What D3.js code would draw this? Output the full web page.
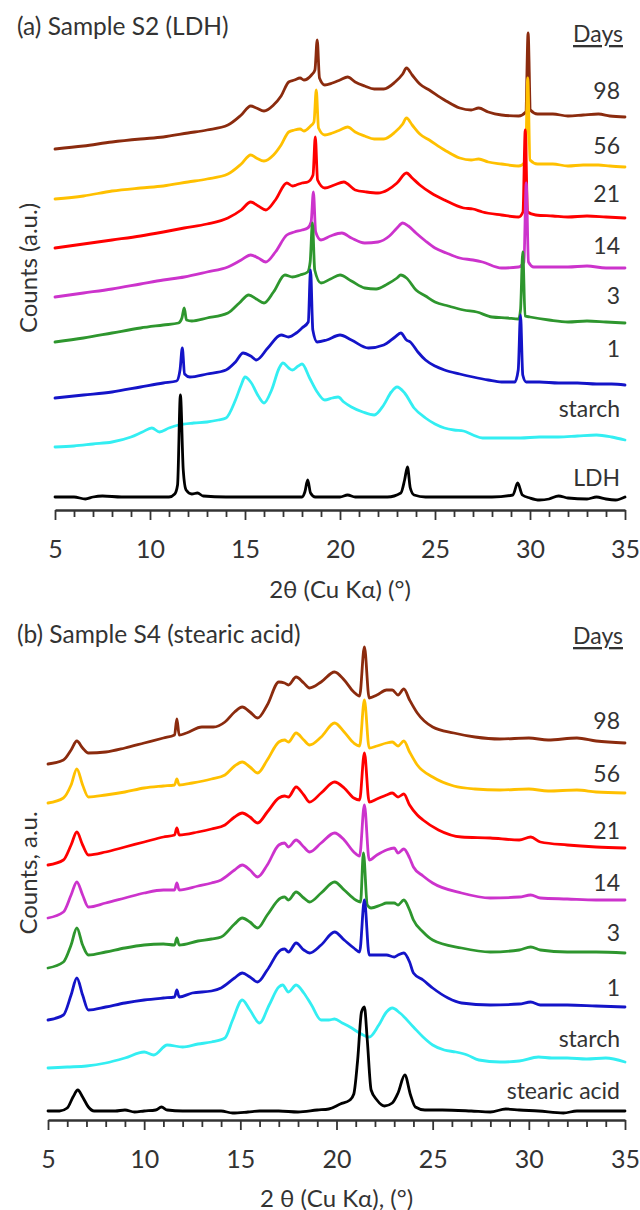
<!DOCTYPE html>
<html>
<head>
<meta charset="utf-8">
<script src="https://cdn.jsdelivr.net/npm/d3@7/dist/d3.min.js"></script>
<style>
  body { margin: 0; background: #fff; }
  text { font-family: Lato, "Open Sans", sans-serif; fill: #333; }
</style>
</head>
<body>
<div id="chart"></div>
<script>
// ---- data (2theta in degrees, counts in a.u., stacked with offsets) ----
let tickValues = [5, 10, 15, 20, 25, 30, 35];
let dayLabels = ["98", "56", "21", "14", "3", "1"];
let colors = ["#8B2B0E", "#FFC000", "#FF0000", "#CC33CC", "#2E962E", "#1414C8", "#33EEF2", "#000000"];

// panel (a) sample S2 (LDH)
let a_day98 = [[5.0,361],[6.5,364],[8.0,368],[9.5,371],[10.7,373],[12.0,377],[13.0,380],[14.1,385],[14.8,395],[15.3,404],[15.6,402],[16.0,399],[16.5,405],[16.9,414],[17.3,428],[17.6,430],[17.9,432],[18.1,430],[18.5,435],[18.68,440],[18.8,470],[18.92,432],[19.2,425],[19.6,427],[20.0,430],[20.4,433],[20.8,428],[21.3,424],[21.8,421],[22.3,421],[22.9,428],[23.3,436],[23.5,442],[23.8,435],[24.2,426],[24.7,420],[25.5,410],[26.3,402],[26.9,400],[27.3,402],[27.8,398],[28.5,395],[29.4,394],[29.78,398],[29.9,477],[30.02,400],[30.4,396],[31.2,396],[32.0,394],[32.8,395],[33.6,396],[34.2,394],[35.0,393]];
let a_day56 = [[5.0,311],[6.5,314],[8.0,319],[9.5,322],[10.7,324],[12.0,328],[13.0,331],[14.1,336],[14.8,346],[15.3,355],[15.6,352],[16.0,349],[16.5,355],[16.9,365],[17.3,378],[17.6,380],[17.9,381],[18.1,379],[18.45,384],[18.63,388],[18.75,420],[18.87,382],[19.2,375],[19.6,377],[20.0,380],[20.4,383],[20.8,378],[21.3,374],[21.8,371],[22.3,371],[22.9,378],[23.3,386],[23.5,392],[23.8,385],[24.2,376],[24.7,370],[25.5,360],[26.3,352],[26.9,350],[27.3,351],[27.8,348],[28.5,346],[29.4,344],[29.76,348],[29.88,432],[30.0,350],[30.4,346],[31.2,346],[32.0,344],[32.8,345],[33.6,345],[34.2,344],[35.0,343]];
let a_day21 = [[5.0,262],[6.5,266],[8.0,270],[9.5,274],[10.7,278],[11.8,282],[13.0,286],[14.1,292],[14.8,300],[15.3,308],[15.7,304],[16.1,300],[16.6,310],[17.2,327],[17.5,324],[17.7,325],[18.0,327],[18.3,328],[18.58,335],[18.7,373],[18.82,330],[19.2,322],[19.7,325],[20.2,328],[20.8,320],[21.4,318],[22.0,317],[22.5,320],[23.0,327],[23.5,337],[23.8,332],[24.2,325],[24.8,317],[25.5,310],[26.5,302],[27.0,301],[27.5,298],[28.5,295],[29.4,293],[29.63,298],[29.75,380],[29.87,298],[30.3,295],[31.2,294],[32.0,293],[33.0,294],[34.0,293],[35.0,292]];
let a_day14 = [[5.0,213],[6.5,217],[8.0,221],[9.5,226],[10.7,230],[11.8,233],[13.0,238],[14.1,243],[14.8,250],[15.3,255],[15.7,252],[16.1,248],[16.6,258],[17.2,275],[17.6,278],[18.0,280],[18.3,282],[18.48,288],[18.6,318],[18.72,278],[19.0,270],[19.5,274],[20.1,277],[20.6,272],[21.3,267],[22.0,268],[22.6,274],[23.0,282],[23.3,287],[23.6,284],[24.0,277],[24.5,269],[25.0,262],[25.6,257],[26.3,252],[27.0,250],[27.5,248],[28.5,242],[29.4,243],[29.68,248],[29.8,327],[29.92,248],[30.2,243],[31.0,243],[32.0,243],[33.0,244],[34.0,242],[35.0,242]];
let a_day3 = [[5.0,168],[6.5,172],[8.0,177],[9.5,182],[10.7,185],[11.5,187],[11.68,192],[11.8,202],[11.92,190],[12.2,189],[13.0,192],[14.1,197],[14.7,207],[15.2,215],[15.6,211],[16.0,207],[16.5,218],[17.1,235],[17.5,233],[17.9,235],[18.3,238],[18.43,248],[18.55,287],[18.67,240],[19.0,227],[19.5,231],[20.0,235],[20.6,229],[21.3,222],[21.9,221],[22.5,226],[23.0,232],[23.2,235],[23.5,232],[24.0,220],[24.5,214],[25.0,208],[25.7,204],[26.5,200],[27.2,198],[28.0,193],[28.8,192],[29.4,191],[29.5,200],[29.62,258],[29.74,194],[30.0,193],[31.0,190],[32.0,188],[33.0,189],[34.0,188],[35.0,187]];
let a_day1 = [[5.0,112],[6.5,115],[8.0,118],[9.5,123],[10.7,127],[11.4,129],[11.58,140],[11.7,162],[11.82,136],[12.1,133],[13.0,136],[14.0,140],[14.5,148],[14.9,157],[15.3,154],[15.6,150],[16.2,162],[16.9,175],[17.3,173],[17.7,177],[18.0,182],[18.33,188],[18.45,240],[18.57,180],[18.8,168],[19.3,170],[20.0,175],[20.6,170],[21.5,162],[22.3,165],[22.9,173],[23.2,177],[23.5,170],[23.7,168],[24.1,158],[24.5,150],[25.0,144],[25.5,140],[26.3,136],[27.0,133],[27.8,130],[28.5,128],[29.2,128],[29.38,140],[29.5,195],[29.62,135],[29.8,128],[30.5,128],[31.5,127],[32.5,127],[33.5,126],[34.3,126],[35.0,125]];
let a_starch = [[5.0,63],[6.0,64],[7.0,66],[8.0,68],[9.0,73],[9.6,78],[10.1,82],[10.5,78],[11.0,82],[11.5,85],[12.3,87],[13.0,88],[13.6,90],[14.0,92],[14.5,110],[14.8,125],[15.0,133],[15.3,128],[15.7,114],[16.0,107],[16.4,120],[16.8,142],[17.0,147],[17.3,142],[17.5,140],[17.8,144],[18.0,146],[18.4,132],[18.8,118],[19.2,110],[19.6,112],[19.9,113],[20.2,108],[20.6,103],[21.2,98],[21.8,95],[22.3,105],[22.7,118],[23.0,123],[23.4,117],[23.9,102],[24.5,92],[25.0,86],[25.5,82],[26.0,80],[26.5,79],[27.0,75],[27.5,72],[28.5,72],[29.5,72],[30.5,73],[31.5,73],[32.5,74],[33.5,75],[34.3,73],[35.0,70]];
let a_ldh = [[5.0,13],[6.0,13],[6.6,11],[7.0,13],[7.5,14],[8.5,13],[10.0,13],[11.0,13],[11.3,16],[11.45,25],[11.6,115],[11.75,40],[11.9,20],[12.2,16],[12.5,17],[12.8,14],[14.0,13],[16.0,13],[18.0,13],[18.15,18],[18.3,30],[18.45,17],[18.7,13],[20.0,13],[20.4,15],[20.8,13],[22.5,13],[23.2,17],[23.4,30],[23.55,43],[23.7,22],[23.9,15],[24.5,13],[28.0,13],[29.1,15],[29.35,27],[29.6,15],[30.0,12],[30.5,10],[31.0,11],[31.5,14],[32.0,12],[33.0,11],[33.5,13],[34.0,11],[34.5,10],[35.0,13]];

// panel (b) sample S4 (stearic acid)
let b_day98 = [[5.0,356],[5.8,360],[6.2,370],[6.5,379],[6.8,372],[7.1,367],[8.0,368],[9.0,372],[10.0,377],[11.0,382],[11.58,385],[11.7,401],[11.82,385],[12.2,387],[13.0,393],[13.6,393],[14.2,398],[14.7,408],[15.1,413],[15.5,408],[15.9,402],[16.4,415],[17.0,438],[17.3,437],[17.5,435],[17.9,443],[18.3,437],[18.6,432],[19.2,438],[19.9,448],[20.4,440],[20.9,428],[21.2,424],[21.45,473],[21.7,422],[22.1,425],[22.6,430],[22.9,430],[23.2,425],[23.5,431],[23.8,420],[24.2,407],[25.0,393],[26.1,387],[27.2,383],[28.5,381],[30.0,382],[31.0,380],[32.5,382],[33.5,379],[35.0,377]];
let b_day56 = [[5.0,317],[5.8,322],[6.2,335],[6.5,351],[6.8,335],[7.1,323],[8.0,325],[9.0,328],[10.0,332],[11.0,334],[11.58,335],[11.7,341],[11.82,335],[12.5,337],[13.5,341],[14.2,345],[14.7,354],[15.1,358],[15.5,353],[15.9,347],[16.4,360],[17.0,378],[17.3,380],[17.5,378],[17.9,387],[18.3,380],[18.6,375],[19.2,383],[19.9,397],[20.4,388],[20.9,377],[21.2,374],[21.45,420],[21.7,372],[22.1,374],[22.6,377],[22.9,378],[23.2,374],[23.5,379],[23.8,368],[24.2,355],[25.0,343],[26.1,334],[27.2,331],[28.5,330],[30.0,331],[31.0,329],[32.5,330],[33.5,328],[35.0,327]];
let b_day21 = [[5.0,255],[5.8,260],[6.2,275],[6.5,288],[6.8,275],[7.1,265],[8.0,268],[9.0,273],[10.0,278],[11.0,283],[11.58,285],[11.7,292],[11.82,285],[12.8,288],[13.5,291],[14.2,295],[14.7,303],[15.1,307],[15.5,303],[15.9,297],[16.4,308],[17.0,322],[17.3,324],[17.5,323],[17.9,333],[18.3,325],[18.6,318],[19.2,327],[19.9,338],[20.4,332],[20.9,322],[21.2,320],[21.45,367],[21.7,318],[22.1,321],[22.6,325],[22.9,327],[23.2,323],[23.5,326],[23.8,315],[24.2,305],[24.5,300],[25.3,290],[26.5,283],[28.0,282],[29.5,280],[30.1,283],[30.6,278],[32.0,275],[33.5,273],[35.0,272]];
let b_day14 = [[5.0,202],[5.8,208],[6.2,225],[6.5,238],[6.8,225],[7.1,213],[8.0,217],[9.0,222],[10.0,227],[11.0,230],[11.58,230],[11.7,237],[11.82,230],[12.8,234],[13.5,237],[14.0,240],[14.7,250],[15.1,255],[15.5,250],[15.9,243],[16.4,255],[17.0,275],[17.3,277],[17.5,273],[17.9,280],[18.3,273],[18.6,268],[19.2,277],[19.9,287],[20.4,280],[20.9,268],[21.2,264],[21.45,315],[21.7,260],[22.1,265],[22.6,270],[23.0,272],[23.2,267],[23.5,271],[23.8,262],[24.0,253],[24.5,244],[25.0,237],[26.5,227],[28.0,222],[29.5,223],[30.1,225],[30.6,222],[32.0,221],[33.5,220],[35.0,220]];
let b_day3 = [[5.0,152],[5.8,158],[6.2,175],[6.5,192],[6.8,175],[7.1,165],[8.0,168],[9.0,172],[10.0,175],[11.0,176],[11.58,175],[11.7,182],[11.82,175],[12.8,179],[13.5,181],[14.0,183],[14.7,196],[15.1,202],[15.5,198],[15.9,192],[16.4,205],[17.1,222],[17.3,223],[17.5,220],[17.9,228],[18.3,222],[18.6,218],[19.2,227],[19.9,238],[20.4,230],[21.0,220],[21.25,218],[21.4,267],[21.6,215],[21.8,212],[22.3,215],[22.6,217],[23.0,217],[23.2,215],[23.5,220],[23.8,210],[24.0,200],[24.5,188],[25.0,180],[26.5,172],[28.0,168],[29.5,170],[30.1,173],[30.6,170],[32.0,168],[33.5,168],[35.0,167]];
let b_day1 = [[5.0,100],[5.8,105],[6.2,125],[6.5,142],[6.8,125],[7.1,110],[8.0,113],[9.0,117],[10.0,120],[11.0,122],[11.58,123],[11.7,130],[11.82,123],[12.5,127],[13.5,129],[14.0,132],[14.7,142],[15.1,147],[15.5,143],[15.9,138],[16.4,150],[17.1,170],[17.3,171],[17.5,168],[17.9,177],[18.3,170],[18.6,167],[19.2,175],[19.9,188],[20.4,180],[20.9,172],[21.2,168],[21.45,220],[21.7,165],[22.1,165],[22.6,165],[23.0,163],[23.2,165],[23.5,167],[23.8,158],[24.0,147],[24.5,140],[25.0,132],[25.8,122],[26.5,117],[28.0,115],[29.5,116],[30.1,118],[30.6,115],[32.0,115],[33.5,114],[35.0,113]];
let b_starch = [[5.0,52],[6.0,53],[7.0,54],[8.0,57],[9.0,62],[10.0,68],[10.5,65],[11.2,75],[12.0,73],[12.8,76],[13.5,78],[14.2,82],[14.6,100],[15.1,120],[15.5,110],[16.0,97],[16.5,115],[17.0,133],[17.2,135],[17.5,128],[17.9,135],[18.3,127],[18.7,115],[19.2,100],[19.6,100],[19.9,101],[20.3,97],[20.7,93],[21.2,87],[21.7,83],[22.2,95],[22.6,108],[22.9,112],[23.3,107],[24.0,93],[24.5,83],[25.0,75],[25.6,70],[26.2,68],[26.8,65],[27.4,60],[28.5,58],[29.5,59],[30.5,63],[31.2,62],[32.0,62],[33.0,61],[34.0,62],[35.0,58]];
let b_stearic = [[5.0,9],[5.6,9],[6.0,12],[6.3,23],[6.55,30],[6.8,23],[7.1,13],[7.4,9],[8.5,9],[9.0,10],[9.5,8],[10.0,9],[10.6,10],[10.9,13],[11.2,10],[12.0,9],[14.0,9],[14.6,7],[15.4,8],[16.0,9],[17.0,9],[18.0,8],[19.0,10],[19.6,11],[20.2,16],[20.7,20],[20.9,26],[21.1,60],[21.3,108],[21.45,113],[21.6,80],[21.8,30],[22.1,20],[22.5,14],[22.9,17],[23.2,27],[23.55,45],[23.85,25],[24.1,13],[24.6,10],[25.5,10],[27.0,9],[28.0,8],[28.8,11],[29.5,10],[30.5,9],[31.8,7],[32.5,9],[34.0,9],[35.0,9]];

let seriesA = [a_day98, a_day56, a_day21, a_day14, a_day3, a_day1, a_starch, a_ldh];
let seriesB = [b_day98, b_day56, b_day21, b_day14, b_day3, b_day1, b_starch, b_stearic];
let namesA = dayLabels.concat(["starch", "LDH"]);
let namesB = dayLabels.concat(["starch", "stearic acid"]);

// ---- layout ----
let width = 640, height = 1210;

let svg = d3
  .select("#chart")
  .append("svg")
  .attr("width", width)
  .attr("height", height);

let panels = [
  {
    series: seriesA, names: namesA,
    x0: 55, x1: 625, axisY: 510,
    title: "(a) Sample S2 (LDH)", titleY: 25,
    xlabel: "2θ (Cu Kα) (°)", xlabelY: 588,
    ylabel: "Counts (a.u.)", ylabelY: 268,
    daysY: 33,
    labelY: [90, 145, 193, 245, 295, 348, 408, 477],
  },
  {
    series: seriesB, names: namesB,
    x0: 48, x1: 625, axisY: 1120,
    title: "(b) Sample S4 (stearic acid)", titleY: 633,
    xlabel: "2 θ (Cu Kα), (°)", xlabelY: 1197,
    ylabel: "Counts, a.u.", ylabelY: 873,
    daysY: 635,
    labelY: [720, 773, 830, 882, 932, 987, 1038, 1090],
  },
];

function drawPanel(p) {
  let g = svg.append("g");

  let xScale = d3.scaleLinear().domain([5, 35]).range([p.x0, p.x1]);
  let yScale = d3.scaleLinear().domain([0, 500]).range([p.axisY, p.axisY - 500]);

  let line = d3
    .line()
    .x((d) => xScale(d[0]))
    .y((d) => yScale(d[1]))
    .curve(d3.curveMonotoneX);

  g.selectAll("path.trace")
    .data(p.series)
    .enter()
    .append("path")
    .attr("class", "trace")
    .attr("d", line)
    .attr("fill", "none")
    .attr("stroke", (d, i) => colors[i])
    .attr("stroke-width", 2.8)
    .attr("stroke-linejoin", "round")
    .attr("stroke-linecap", "round");

  // x axis, minor tick every degree
  let xAxis = d3
    .axisBottom(xScale)
    .tickValues(d3.range(5, 36, 1))
    .tickSize(7)
    .tickSizeOuter(0)
    .tickPadding(23)
    .tickFormat((d) => (tickValues.includes(d) ? d : ""));

  let axisEl = g
    .append("g")
    .attr("transform", "translate(0," + p.axisY + ")")
    .call(xAxis);

  axisEl.select(".domain").attr("stroke", "#333").attr("stroke-width", 2.5);
  axisEl
    .selectAll(".tick line")
    .attr("stroke", "#333")
    .attr("stroke-width", 1.8)
    .attr("y2", (d) => (d % 5 === 0 ? 10 : 7));
  axisEl
    .selectAll(".tick text")
    .style("font-family", "Lato, sans-serif")
    .style("font-size", "25px")
    .attr("fill", "#333");

  // texts
  g.append("text")
    .attr("x", 17)
    .attr("y", p.titleY)
    .attr("dominant-baseline", "central")
    .style("font-size", "24.5px")
    .text(p.title);

  g.append("text")
    .attr("x", 623)
    .attr("y", p.daysY)
    .attr("text-anchor", "end")
    .attr("dominant-baseline", "central")
    .style("font-size", "23px")
    .style("text-decoration", "underline")
    .text("Days");

  g.selectAll("text.series-label")
    .data(p.names)
    .enter()
    .append("text")
    .attr("class", "series-label")
    .attr("x", 620)
    .attr("y", (d, i) => p.labelY[i])
    .attr("text-anchor", "end")
    .attr("dominant-baseline", "central")
    .style("font-size", "23px")
    .text((d) => d);

  g.append("text")
    .attr("x", (p.x0 + p.x1) / 2)
    .attr("y", p.xlabelY)
    .attr("text-anchor", "middle")
    .attr("dominant-baseline", "central")
    .style("font-size", "24px")
    .text(p.xlabel);

  g.append("text")
    .attr("transform", "translate(27," + p.ylabelY + ") rotate(-90)")
    .attr("text-anchor", "middle")
    .attr("dominant-baseline", "central")
    .style("font-size", "24px")
    .text(p.ylabel);
}

panels.forEach(drawPanel);
</script>
</body>
</html>
